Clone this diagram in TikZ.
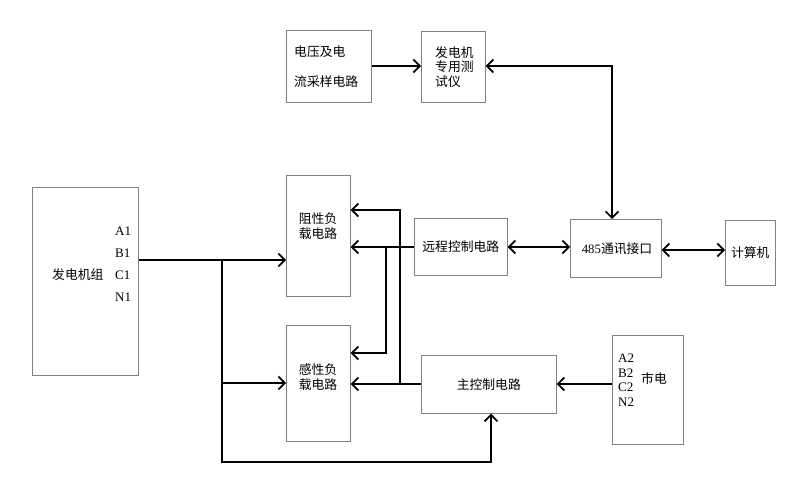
\documentclass[tikz,border=0pt]{standalone}
\usepackage{fontspec}
\setmainfont{Liberation Serif}
\newfontfamily\cjk{Noto Sans CJK SC}
\usetikzlibrary{arrows.meta}
\begin{document}
\begin{tikzpicture}[x=1pt,y=-1pt,
  box/.style={draw=black!50,line width=0.6pt,inner sep=0pt,anchor=north west},
  txt/.style={inner sep=0pt,font=\cjk\fontsize{12.8}{14.5}\selectfont,align=left},
  lat/.style={inner sep=0pt,font=\fontsize{13}{14.5}\selectfont,align=left},
  conn/.style={line width=1.9pt,line join=miter},
  tip/.style={},
  arr/.style={conn,-{Straight Barb[length=6.5pt,width=13pt,line width=1.7pt]}},
  darr/.style={conn,{Straight Barb[length=6.5pt,width=13pt,line width=1.7pt]}-{Straight Barb[length=6.5pt,width=13pt,line width=1.7pt]}}]
\useasboundingbox (0,0) rectangle (800,500);
% boxes
\node[box,minimum width=85pt,minimum height=72pt] (samp) at (286,30) {};
\node[box,minimum width=64pt,minimum height=71pt] (tester) at (421,31) {};
\node[box,minimum width=106pt,minimum height=188pt] (gen) at (32,187) {};
\node[box,minimum width=64pt,minimum height=121pt] (res) at (286,175) {};
\node[box,minimum width=93pt,minimum height=57pt] (remote) at (414,218) {};
\node[box,minimum width=91pt,minimum height=58pt] (com485) at (570,219) {};
\node[box,minimum width=50pt,minimum height=65pt] (pc) at (725,220) {};
\node[box,minimum width=64pt,minimum height=116pt] (ind) at (286,325) {};
\node[box,minimum width=135pt,minimum height=58pt] (main) at (421,355) {};
\node[box,minimum width=71pt,minimum height=109pt] (grid) at (612,335) {};
% texts
\node[txt,anchor=west] (sampa) at (294,52) {电压及电};
\node[txt,anchor=west] (sampb) at (294,82) {流采样电路};
\node[txt,anchor=west] (testert) at (435,67) {发电机\\专用测\\试仪};
\node[txt] (rest) at (318,226) {阻性负\\载电路};
\node[txt] (indt) at (318,377) {感性负\\载电路};
\node[txt] (remotet) at (remote.center) {远程控制电路};
\node[txt] (comt) at (617,249) {\fontspec{Liberation Serif}485\cjk 通讯接口};
\node[txt] (pct) at (pc.center) {计算机};
\node[txt] (maint) at (main.center) {主控制电路};
\node[txt,anchor=west] (gent) at (52,275) {发电机组};
\node[lat,anchor=west,font=\fontsize{13}{22}\selectfont] (genp) at (115,264) {A1\\B1\\C1\\N1};
\node[lat,anchor=west] (gridp) at (618,380) {A2\\B2\\C2\\N2};
\node[txt,anchor=west] (gridt) at (641,379) {市电};
% junction coordinates
\coordinate (j1) at (222,260);
\coordinate (j1b) at (222,383);
\coordinate (j1c) at (222,462);
\coordinate (j1d) at (491,462);
\coordinate (j2) at (386,247);
\coordinate (j2b) at (386,353);
\coordinate (j3) at (400,384);
\coordinate (j3b) at (400,210);
\coordinate (j4) at (612,66);
\coordinate (j5) at (0,250);
% connectors
\draw[arr] (samp.east |- j4) -- (tester.west |- j4);
\draw[darr] (tester.east |- j4) -- (j4) -- (j4 |- com485.north);
\draw[darr] (remote.east |- j2) -- (com485.west |- j2);
\draw[darr] (com485.east |- j5) -- (pc.west |- j5);
\draw[arr] (gen.east |- j1) -- (res.west |- j1);
\draw[arr] (j1b) -- (ind.west |- j1b);
\draw[arr] (j1) -- (j1c) -- (j1d) -- (j1d |- main.south);
\draw[arr] (remote.west |- j2) -- (res.east |- j2);
\draw[arr] (j2) -- (j2b) -- (ind.east |- j2b);
\draw[arr] (main.west |- j3) -- (ind.east |- j3);
\draw[arr] (j3) -- (j3b) -- (res.east |- j3b);
\draw[arr] (grid.west |- j3) -- (main.east |- j3);
\end{tikzpicture}
\end{document}
